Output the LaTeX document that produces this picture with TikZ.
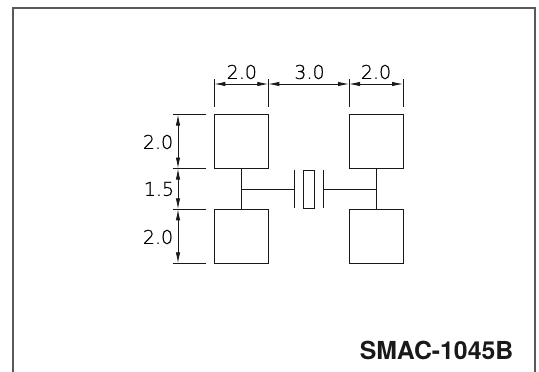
\documentclass[tikz,border=0pt]{standalone}
\usepackage{fontspec}
\setmainfont{TeX Gyre Heros}
\newfontfamily\cadfont[FakeBold=.6]{DejaVu Sans ExtraLight}
\usetikzlibrary{arrows.meta}
\tikzset{
    line cap=butt,line join=miter,
    pad/.style={draw=black!90,line width=1pt,rectangle,minimum size=54pt,inner sep=0pt,outer sep=0pt},
    wire/.style={draw=black!90,line width=1pt},
    extline/.style={draw=black!90,line width=.9pt},
    dimline/.style={draw=black!90,line width=.8pt,{Latex[length=11pt,width=4.4pt]}-{Latex[length=11pt,width=4.4pt]}},
    dimtext/.style={font=\cadfont\fontsize{19}{19}\selectfont,text=black,inner sep=0pt},
    frameline/.style={draw=black!65,line width=1.4pt},
}
\begin{document}
\begin{tikzpicture}[x=1pt,y=-1pt]
    \useasboundingbox (0,0) rectangle (539,372);
    \draw[frameline] (13,372) |- (535,8) -- (535,372);

    % land pads
    \node[pad] (padtl) at (241.3,141.5) {};
    \node[pad] (padbl) at (241.3,236.3) {};
    \node[pad] (padtr) at (376,141.5) {};
    \node[pad] (padbr) at (376,236.3) {};

    % crystal
    \node[draw=black!90,line width=1pt,rectangle,minimum width=10.5pt,minimum height=38pt,inner sep=0pt,outer sep=0pt] (xtal) at (308.8,189.2) {};
    \coordinate (jl) at (241.3,189.5);
    \coordinate (jr) at (376,189.5);
    \coordinate (pla) at (294,189.5);
    \coordinate (plb) at (323.5,189.5);
    \draw[wire] (padtl.south) -- (padbl.north);
    \draw[wire] (padtr.south) -- (padbr.north);
    \draw[wire] (jl) -- (pla);
    \draw[wire] (plb) -- (jr);
    \draw[wire] (pla |- xtal.north) -- (pla |- xtal.south);
    \draw[wire] (plb |- xtal.north) -- (plb |- xtal.south);

    % extension lines, top
    \foreach \p/\q in {padtl.north west/a,padtl.north east/b,padtr.north west/c,padtr.north east/d}{
        \coordinate (top\q) at ([yshift=8pt]\p);
        \coordinate (dim\q) at ([yshift=35.5pt]\p);
        \draw[extline] (top\q) -- (dim\q);
    }
    % extension lines, left
    \foreach \p/\q in {padtl.north west/a,padtl.south west/b,padbl.north west/c,padbl.south west/d}{
        \coordinate (lft\q) at ([xshift=-8pt]\p);
        \coordinate (out\q) at ([xshift=-41pt]\p);
        \draw[extline] (lft\q) -- (out\q);
    }

    % dimensions, top
    \coordinate (ha) at ([yshift=-5pt]dima);
    \draw[dimline] (ha) -- (ha -| dimb);
    \draw[dimline] (ha -| dimb) -- (ha -| dimc);
    \draw[dimline] (ha -| dimc) -- (ha -| dimd);
    \node[dimtext] (wa) at (241.8,72) {2.0};
    \node[dimtext] (wb) at (309.5,72) {3.0};
    \node[dimtext] (wc) at (376,72) {2.0};

    % dimensions, left
    \coordinate (va) at (178,0);
    \draw[dimline] (va |- outa) -- (va |- outb);
    \draw[dimline] (va |- outb) -- (va |- outc);
    \draw[dimline] (va |- outc) -- (va |- outd);
    \node[dimtext] (ha1) at (158,142) {2.0};
    \node[dimtext] (hb1) at (159,189) {1.5};
    \node[dimtext] (hc1) at (158,237) {2.0};

    \node[font=\bfseries\fontsize{24.8}{24.8}\selectfont,text=black!90,inner sep=0pt] (partno) at (436.5,350) {SMAC-1045B};
\end{tikzpicture}
\end{document}
